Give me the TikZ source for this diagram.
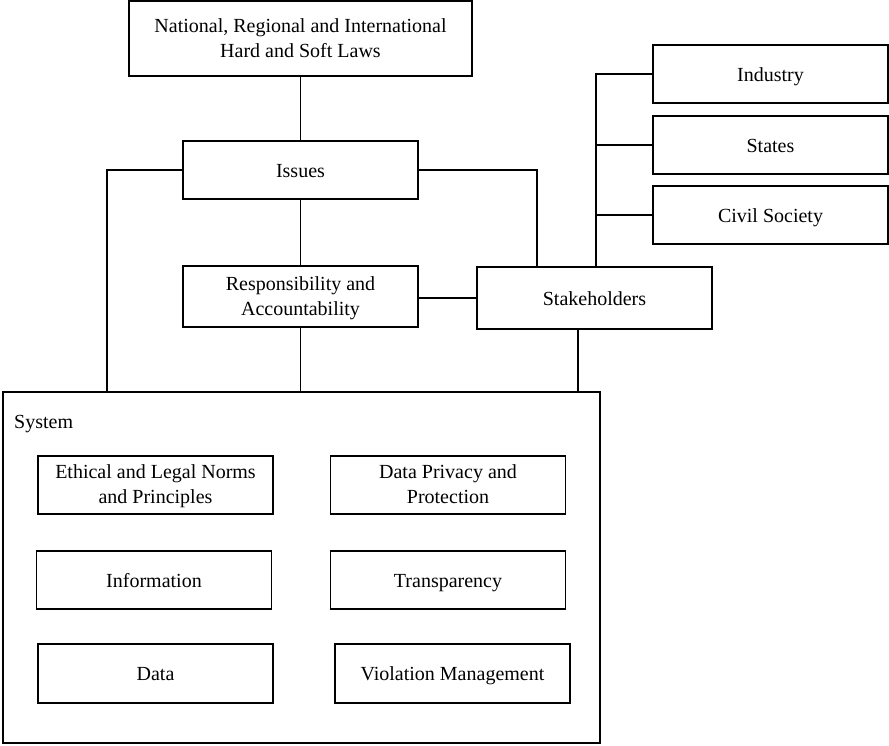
\documentclass[tikz,border=0pt]{standalone}
\usepackage{fontspec}
\setmainfont{Liberation Serif}
\begin{document}
\begin{tikzpicture}[x=1pt,y=-1pt,
  every node/.style={font=\fontsize{20}{25}\selectfont},
  box/.style={draw, line width=1.5pt, align=center, inner sep=0pt, minimum width=235pt, minimum height=58pt},
  one/.style={text height=14pt, text depth=0pt},
  two/.style={text height=42pt, text depth=5pt},
  link/.style={draw, line width=1.5pt}]
\useasboundingbox (0,0) rectangle (889,745);
% upper tier
\node[box, two, minimum width=343pt, minimum height=75pt] (laws) at (300.5,38.5) {National, Regional and International\\Hard and Soft Laws};
\node[box, one] (issues) at (300.5,170) {Issues};
\node[box, two, minimum height=61pt] (resp) at (300.5,296.5) {Responsibility and\\Accountability};
\node[box, one, minimum height=62pt] (stake) at (594.5,298) {Stakeholders};
% stakeholder groups
\node[box, one] (industry) at (770.5,74) {Industry};
\node[box, one] (states) at (770.5,145) {States};
\node[box, one] (civil) at (770.5,215) {Civil Society};
% system container and its parts
\node[draw, line width=1.5pt, minimum width=597pt, minimum height=351pt, inner sep=0pt] (system) at (301.5,567.5) {};
\node[anchor=west, inner sep=0pt, one] (systemlbl) at (14,421) {System};
\node[box, two] (ethical) at (155.5,485) {Ethical and Legal Norms\\and Principles};
\node[box, two] (privacy) at (448,485) {Data Privacy and\\Protection};
\node[box, one] (info) at (154,580) {Information};
\node[box, one] (transp) at (448,580) {Transparency};
\node[box, one, minimum height=59pt] (data) at (155.5,673.5) {Data};
\node[box, one, minimum height=59pt] (viol) at (452.5,673.5) {Violation Management};
% connectors
\coordinate (sysL) at (107,392);
\coordinate (stakeT) at ([xshift=-57.5]stake.north);
\coordinate (stakeB) at ([xshift=-16.5]stake.south);
\coordinate (trunk) at ([xshift=1.5]stake.north);
\draw[link] (laws.south) -- (issues.north);
\draw[link] (issues.south) -- (resp.north);
\draw[link] (resp.south) -- (resp.south |- system.north);
\draw[link] (issues.west) -| (sysL);
\draw[link] (issues.east) -| (stakeT);
\draw[link] (stake.west -| resp.east) -- (stake.west);
\draw[link] (stakeB) -- (stakeB |- system.north);
\draw[link] (trunk) |- (industry.west);
\draw[link] (states.west) -- (states.west -| trunk);
\draw[link] (civil.west) -- (civil.west -| trunk);
\end{tikzpicture}
\end{document}
